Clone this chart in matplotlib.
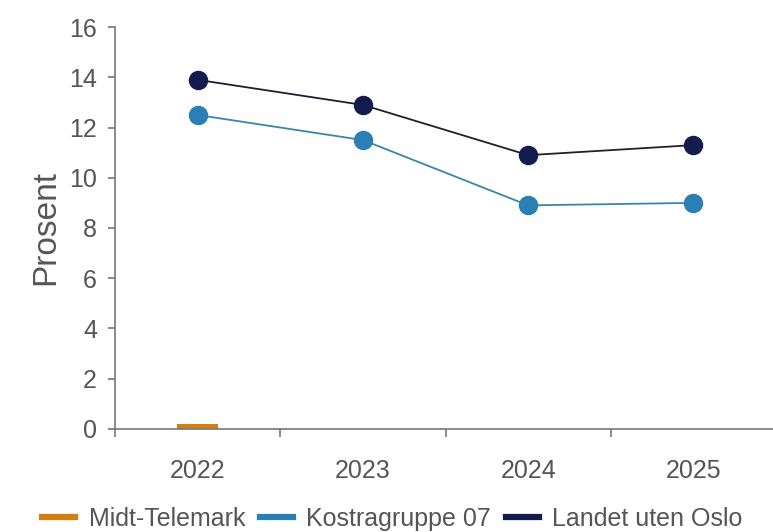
import matplotlib.pyplot as plt
import numpy as np
from matplotlib.lines import Line2D

plt.rcParams['font.family'] = ['Liberation Sans', 'DejaVu Sans']

# Data
years = ['2022', '2023', '2024', '2025']
series_names = ['Midt-Telemark', 'Kostragruppe 07', 'Landet uten Oslo']
midt_telemark = [0.2, np.nan, np.nan, np.nan]
kostragruppe = [12.5, 11.5, 8.9, 9.0]
landet = [13.9, 12.9, 10.9, 11.3]

c_orange = '#d37f12'
c_blue = '#2a7fb4'
c_navy = '#141c4e'
c_text = '#555555'
c_axis = '#777777'

fig = plt.figure(figsize=(7.73, 5.32), dpi=100)
ax = fig.add_axes([0.149, 0.194, 0.855, 0.755])

x = np.arange(len(years))
ax.bar(x, midt_telemark, width=0.25, color=c_orange, zorder=2)
ax.plot(x, kostragruppe, color='#3a86a8', lw=1.3, marker='o', markersize=13,
        markerfacecolor=c_blue, markeredgecolor=c_blue, zorder=3)
ax.plot(x, landet, color='#1e2030', lw=1.3, marker='o', markersize=13,
        markerfacecolor=c_navy, markeredgecolor=c_navy, zorder=3)

ax.set_xlim(-0.5, 3.5)
ax.set_ylim(0, 16)
ax.set_yticks(range(0, 17, 2))
ax.set_xticks(x)
ax.set_xticklabels(years)
ax.set_xticks(np.arange(-0.5, 3.5, 1), minor=True)
ax.tick_params(axis='x', which='major', length=0, pad=22, labelsize=18, labelcolor=c_text)
ax.tick_params(axis='x', which='minor', length=6, width=1.2, color=c_axis)
ax.tick_params(axis='y', length=5, width=1.2, color=c_axis, labelsize=18,
               labelcolor=c_text, pad=8)

for s in ['top', 'right']:
    ax.spines[s].set_visible(False)
for s in ['left', 'bottom']:
    ax.spines[s].set_color(c_axis)
    ax.spines[s].set_linewidth(1.2)

ax.set_ylabel('Prosent', fontsize=24, color=c_text, labelpad=6)

leg_handles = [Line2D([0], [0], color=c, lw=4.5) for c in [c_orange, c_blue, c_navy]]
fig.legend(leg_handles, series_names, loc='lower center', bbox_to_anchor=(0.508, -0.04),
           ncol=3, frameon=False, fontsize=18, handlelength=1.3, handletextpad=0.55,
           columnspacing=0.6, labelcolor=c_text)

fig.savefig('out.png', dpi=100)
